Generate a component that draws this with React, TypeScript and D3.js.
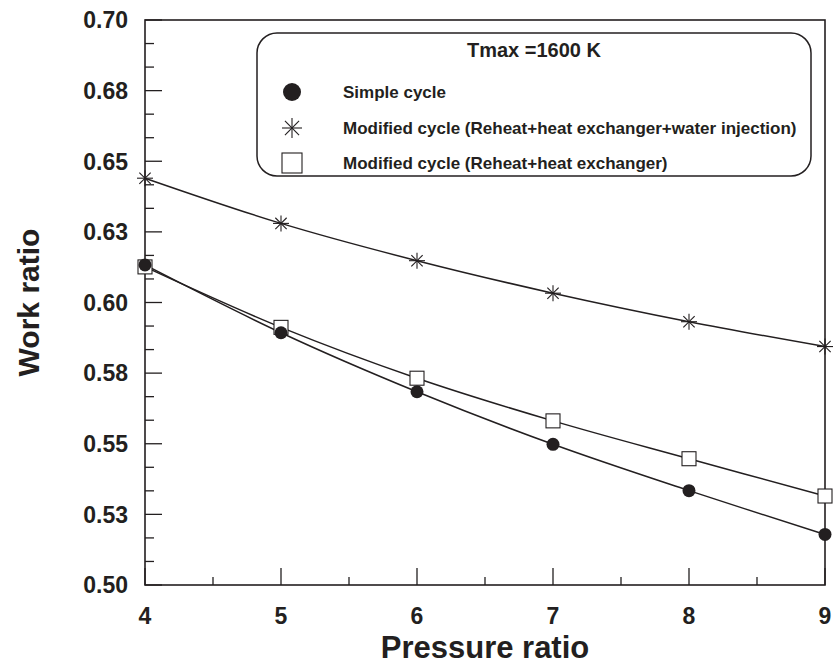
import React, { useEffect, useRef } from "react";
import * as d3 from "d3";

const pressureRatio = [4, 5, 6, 7, 8, 9];
const simpleCycle = [0.6133, 0.5893, 0.5684, 0.5498, 0.5334, 0.5179];
const waterInjection = [0.644, 0.628, 0.6148, 0.6033, 0.5932, 0.5844];
const reheatExchanger = [0.6126, 0.5912, 0.5732, 0.5581, 0.5447, 0.5315];

const yTicks = [0.5, 0.525, 0.55, 0.575, 0.6, 0.625, 0.65, 0.675, 0.7];
const yTickLabels = ["0.50", "0.53", "0.55", "0.58", "0.60", "0.63", "0.65", "0.68", "0.70"];
const xTicks = [4, 5, 6, 7, 8, 9];

const legendTitle = "Tmax =1600 K";
const legendLabels = [
  "Simple cycle",
  "Modified cycle (Reheat+heat exchanger+water injection)",
  "Modified cycle (Reheat+heat exchanger)",
];

const INK = "#231f20";
const FONT = "'Liberation Sans', Arial, Helvetica, sans-serif";

const App = () => {
  const svgRef = useRef<SVGSVGElement>(null);

  const config = {
    width: 834,
    height: 666,
    margin: { top: 20, right: 9, bottom: 81, left: 145 },
  };

  useEffect(() => {
    document.body.style.margin = "0";
    const svg = d3.select(svgRef.current);
    svg.selectAll("*").remove();

    const { width, height, margin } = config;
    const x = d3.scaleLinear().domain([4, 9]).range([margin.left, width - margin.right]);
    const y = d3.scaleLinear().domain([0.5, 0.7]).range([height - margin.bottom, margin.top]);

    const g = svg.append("g");

    // minor ticks
    const yMinor = d3.range(0, 24).map((i) => 0.5 + (i * 0.025) / 3).filter((_, i) => i % 3 !== 0);
    g.selectAll(".ymin")
      .data(yMinor)
      .join("line")
      .attr("x1", x(4))
      .attr("x2", x(4) + 9)
      .attr("y1", (d) => y(d))
      .attr("y2", (d) => y(d))
      .attr("stroke", INK)
      .attr("stroke-width", 1.3);
    g.selectAll(".ymaj")
      .data(yTicks)
      .join("line")
      .attr("x1", x(4))
      .attr("x2", x(4) + 17)
      .attr("y1", (d) => y(d))
      .attr("y2", (d) => y(d))
      .attr("stroke", INK)
      .attr("stroke-width", 1.3);

    const xMinor = d3.range(4.5, 9, 1);
    g.selectAll(".xmin")
      .data(xMinor)
      .join("line")
      .attr("x1", (d) => x(d))
      .attr("x2", (d) => x(d))
      .attr("y1", y(0.5))
      .attr("y2", y(0.5) - 8)
      .attr("stroke", INK)
      .attr("stroke-width", 1.3);
    g.selectAll(".xmaj")
      .data(xTicks)
      .join("line")
      .attr("x1", (d) => x(d))
      .attr("x2", (d) => x(d))
      .attr("y1", y(0.5))
      .attr("y2", y(0.5) - 17)
      .attr("stroke", INK)
      .attr("stroke-width", 1.3);

    // frame
    g.append("rect")
      .attr("x", x(4))
      .attr("y", y(0.7))
      .attr("width", x(9) - x(4))
      .attr("height", y(0.5) - y(0.7))
      .attr("fill", "none")
      .attr("stroke", INK)
      .attr("stroke-width", 1.6);

    // tick labels
    g.selectAll(".ylab")
      .data(yTicks)
      .join("text")
      .attr("x", x(4) - 17)
      .attr("y", (d) => y(d))
      .attr("dy", "0.36em")
      .attr("text-anchor", "end")
      .attr("font-family", FONT)
      .attr("font-weight", "bold")
      .attr("font-size", 23)
      .attr("fill", INK)
      .text((d, i) => yTickLabels[i]);

    g.selectAll(".xlab")
      .data(xTicks)
      .join("text")
      .attr("x", (d) => x(d))
      .attr("y", 624)
      .attr("text-anchor", "middle")
      .attr("font-family", FONT)
      .attr("font-weight", "bold")
      .attr("font-size", 23)
      .attr("fill", INK)
      .text((d) => d);

    // axis titles
    g.append("text")
      .attr("x", (x(4) + x(9)) / 2)
      .attr("y", 658)
      .attr("text-anchor", "middle")
      .attr("font-family", FONT)
      .attr("font-weight", "bold")
      .attr("font-size", 31)
      .attr("fill", INK)
      .text("Pressure ratio");

    g.append("text")
      .attr("transform", `translate(39,${(y(0.5) + y(0.7)) / 2}) rotate(-90)`)
      .attr("text-anchor", "middle")
      .attr("font-family", FONT)
      .attr("font-weight", "bold")
      .attr("font-size", 30)
      .attr("fill", INK)
      .text("Work ratio");

    // curves
    const line = d3
      .line<number>()
      .x((d, i) => x(pressureRatio[i]))
      .y((d) => y(d))
      .curve(d3.curveCatmullRom);

    [simpleCycle, waterInjection, reheatExchanger].forEach((series) => {
      g.append("path")
        .attr("d", line(series))
        .attr("fill", "none")
        .attr("stroke", INK)
        .attr("stroke-width", 1.5);
    });

    const star = (sel, cx, cy, r) => {
      [0, 45, 90, 135].forEach((a) => {
        const rad = (a * Math.PI) / 180;
        sel
          .append("line")
          .attr("x1", cx - r * Math.cos(rad))
          .attr("y1", cy - r * Math.sin(rad))
          .attr("x2", cx + r * Math.cos(rad))
          .attr("y2", cy + r * Math.sin(rad))
          .attr("stroke", INK)
          .attr("stroke-width", 1.1);
      });
    };

    // markers
    g.selectAll(".sq")
      .data(reheatExchanger)
      .join("rect")
      .attr("x", (d, i) => x(pressureRatio[i]) - 7)
      .attr("y", (d) => y(d) - 7)
      .attr("width", 14)
      .attr("height", 14)
      .attr("fill", "white")
      .attr("stroke", INK)
      .attr("stroke-width", 1.1);

    waterInjection.forEach((d, i) => star(g, x(pressureRatio[i]), y(d), 8));

    g.selectAll(".dot")
      .data(simpleCycle)
      .join("circle")
      .attr("cx", (d, i) => x(pressureRatio[i]))
      .attr("cy", (d) => y(d))
      .attr("r", 6.5)
      .attr("fill", INK);

    // legend
    const lg = svg.append("g");
    lg.append("rect")
      .attr("x", 257)
      .attr("y", 33)
      .attr("width", 554)
      .attr("height", 143)
      .attr("rx", 20)
      .attr("fill", "white")
      .attr("stroke", INK)
      .attr("stroke-width", 1.5);

    lg.append("text")
      .attr("x", 534)
      .attr("y", 57)
      .attr("text-anchor", "middle")
      .attr("font-family", FONT)
      .attr("font-weight", "bold")
      .attr("font-size", 20)
      .attr("fill", INK)
      .text(legendTitle);

    const rowY = [92, 128, 163];
    lg.append("circle").attr("cx", 292).attr("cy", rowY[0]).attr("r", 9).attr("fill", INK);
    star(lg, 292, rowY[1], 10);
    lg.append("rect")
      .attr("x", 282)
      .attr("y", rowY[2] - 10)
      .attr("width", 20)
      .attr("height", 20)
      .attr("fill", "white")
      .attr("stroke", INK)
      .attr("stroke-width", 1.1);

    lg.selectAll(".ltxt")
      .data(legendLabels)
      .join("text")
      .attr("x", 343)
      .attr("y", (d, i) => rowY[i] + 6)
      .attr("font-family", FONT)
      .attr("font-weight", "bold")
      .attr("font-size", 17)
      .attr("fill", INK)
      .text((d) => d);
  }, []);

  return <svg ref={svgRef} width={config.width} height={config.height} style={{ display: "block" }}></svg>;
};

export default App;
